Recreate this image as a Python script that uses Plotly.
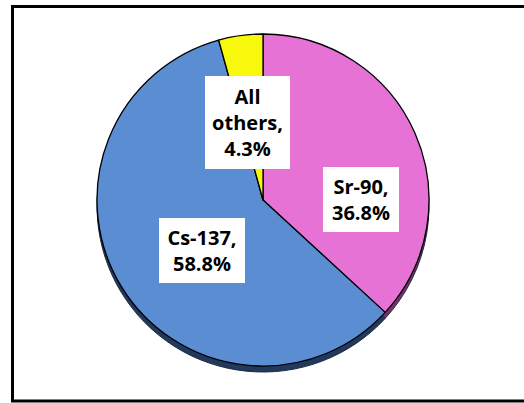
import plotly.graph_objects as go

labels = ["Sr-90", "Cs-137", "All others"]
values = [36.8, 58.8, 4.3]
face_colors = ["#E672D6", "#5A8DD2", "#F8F80C"]
edge_colors = ["#7A2F6E", "#22395E", "#6E6E10"]

W, H = 524, 403
cx, cy, r = 263, 200, 166
shadow_dy = 6


def dom(cx, cy, r):
    return dict(x=[(cx - r) / W, (cx + r) / W], y=[1 - (cy + r) / H, 1 - (cy - r) / H])


fig = go.Figure()
fig.add_trace(go.Pie(
    labels=labels, values=values, sort=False, direction="clockwise", rotation=0,
    marker=dict(colors=edge_colors, line=dict(color="#1a2a40", width=1)),
    textinfo="none", hoverinfo="skip", showlegend=False,
    domain=dom(cx, cy + shadow_dy, r),
))
fig.add_trace(go.Pie(
    labels=labels, values=values, sort=False, direction="clockwise", rotation=0,
    marker=dict(colors=face_colors, line=dict(color="#000000", width=1.3)),
    textinfo="none", showlegend=False,
    domain=dom(cx, cy, r),
))

# label boxes (center px, width, height)
boxes = {
    "All others": (247.5, 122.5, 85, 93),
    "Sr-90": (361, 199.5, 76, 65),
    "Cs-137": (202, 250.5, 86, 65),
}
for lab, val in zip(labels, values):
    bx, by, bw, bh = boxes[lab]
    if lab == "All others":
        txt = "All<br>others,<br>%.1f%%" % val
    else:
        txt = "%s,<br>%.1f%%" % (lab, val)
    fig.add_annotation(
        x=bx / W, y=1 - by / H, xref="paper", yref="paper",
        text=txt, showarrow=False, bgcolor="white",
        width=bw, height=bh, borderpad=0, borderwidth=0,
        align="center", valign="middle",
        font=dict(family="Open Sans", size=20, color="black", weight="bold"),
        xanchor="center", yanchor="middle",
    )

fig.add_shape(type="rect", xref="paper", yref="paper",
              x0=12.5 / W, x1=1.05, y0=1 - 401 / H, y1=1 - 6.5 / H,
              line=dict(color="black", width=3), layer="above")

fig.update_layout(
    width=W, height=H, margin=dict(l=0, r=0, t=0, b=0),
    paper_bgcolor="white", plot_bgcolor="white",
)
fig.write_html("out.html")
